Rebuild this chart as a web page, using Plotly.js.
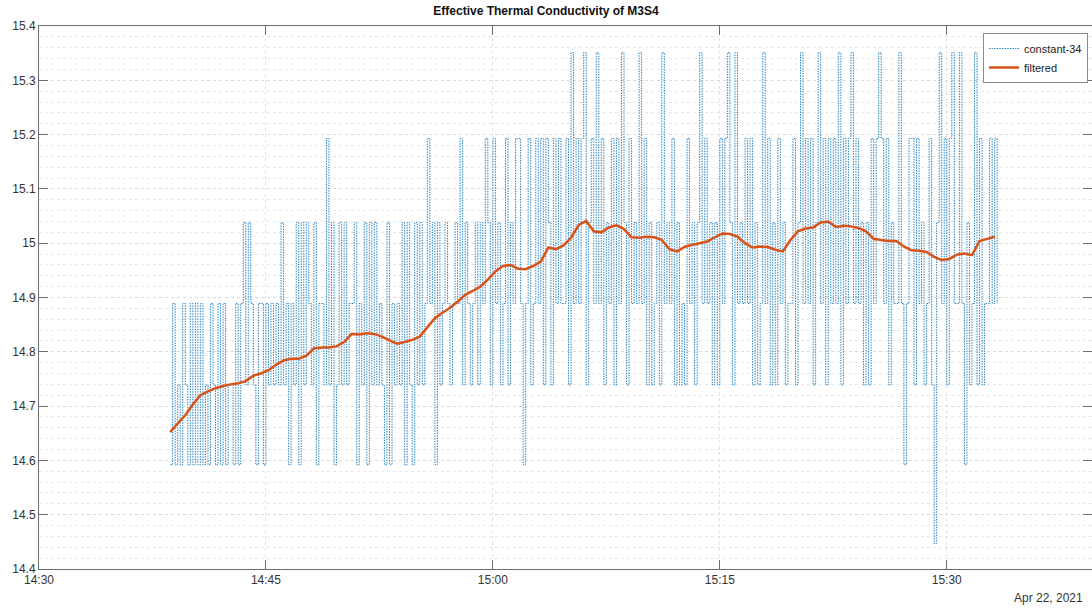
<!DOCTYPE html>
<html>
<head>
<meta charset="utf-8">
<script src="https://cdn.plot.ly/plotly-3.0.1.min.js"></script>
<style>
  html, body { margin: 0; padding: 0; background: #ffffff; }
  #chart { width: 1092px; height: 608px; }
</style>
</head>
<body>
<div id="chart"></div>
<script>
// Quantised conductivity levels the sensor can report
const levelValues = [14.447, 14.592, 14.739, 14.889, 15.038, 15.193, 15.351];

// Raw readings: one level index per 10 s sample, one string per minute, starting 14:38:40
const rawLevelCodes = [
  "131213", "213131", "312132", "131312", "213134", "243213", "313232", "324231",
  "324142", "432413", "325241", "242423", "341324", "142423", "214132", "324142",
  "142423", "534142", "343234", "352432", "342435", "425342", "352435", "531352",
  "353525", "425353", "352635", "356245", "363524", "352536", "425343", "635242",
  "342634", "352423", "253424", "635342", "425356", "426343", "535242", "363524",
  "253423", "352463", "535246", "352535", "362535", "635342", "425356", "535243",
  "363135", "525342", "352046", "352563", "363142", "362523", "35353"
];
const rawStartTime = "14:38:40";
const rawStepSeconds = 10;

// Filtered conductivity, one value every 30 s starting 14:38:40
const filteredValues = [
  14.652, 14.668, 14.683, 14.703, 14.720, 14.727, 14.733, 14.737, 14.740, 14.742,
  14.746, 14.756, 14.760, 14.766, 14.776, 14.784, 14.787, 14.787, 14.793, 14.806,
  14.808, 14.808, 14.810, 14.818, 14.833, 14.832, 14.834, 14.833, 14.828, 14.821,
  14.815, 14.818, 14.822, 14.828, 14.845, 14.862, 14.872, 14.881, 14.892, 14.905,
  14.912, 14.920, 14.933, 14.948, 14.958, 14.960, 14.953, 14.952, 14.958, 14.966,
  14.992, 14.989, 14.996, 15.010, 15.033, 15.041, 15.022, 15.020, 15.029, 15.033,
  15.026, 15.011, 15.010, 15.012, 15.011, 15.006, 14.989, 14.985, 14.993, 14.997,
  15.000, 15.003, 15.011, 15.018, 15.017, 15.012, 15.000, 14.992, 14.994, 14.993,
  14.988, 14.985, 15.006, 15.022, 15.027, 15.029, 15.038, 15.040, 15.030, 15.032,
  15.031, 15.028, 15.022, 15.008, 15.006, 15.004, 15.004, 14.994, 14.987, 14.986,
  14.984, 14.975, 14.969, 14.971, 14.979, 14.981, 14.978, 15.004, 15.008, 15.012
];
const filteredStartTime = "14:38:40";
const filteredStepSeconds = 30;

const dayLabel = "Apr 22, 2021";
const dayIso = "2021-04-22";
const xTickTimes = ["14:30", "14:45", "15:00", "15:15", "15:30"];
const xRangeTimes = ["14:30:00", "15:39:36"];
const yTickValues = [14.4, 14.5, 14.6, 14.7, 14.8, 14.9, 15.0, 15.1, 15.2, 15.3, 15.4];
const yTickLabels = ["14.4", "14.5", "14.6", "14.7", "14.8", "14.9", "15", "15.1", "15.2", "15.3", "15.4"];

// clock helpers: "HH:MM:SS" + offset seconds -> full timestamp string
function toSeconds(hms) {
  const p = hms.split(":").map(Number);
  return p[0] * 3600 + p[1] * 60 + (p[2] || 0);
}
function stamp(totalSec) {
  const h = Math.floor(totalSec / 3600);
  const m = Math.floor((totalSec % 3600) / 60);
  const s = totalSec % 60;
  const pad = n => String(n).padStart(2, "0");
  return `${dayIso} ${pad(h)}:${pad(m)}:${pad(s)}`;
}

// raw series
const rawCodes = rawLevelCodes.join("").split("").map(Number);
const rawBase = toSeconds(rawStartTime);
const rawX = rawCodes.map((_, i) => stamp(rawBase + i * rawStepSeconds));
const rawY = rawCodes.map(c => levelValues[c]);

// filtered series
const filtBase = toSeconds(filteredStartTime);
const filtX = filteredValues.map((_, i) => stamp(filtBase + i * filteredStepSeconds));

const traces = [
  {
    type: "scatter", mode: "lines", name: "constant-34",
    x: rawX, y: rawY,
    line: { color: "#1f7fc0", width: 1, dash: "1.4px,1.2px", shape: "hv", simplify: false },
    hoverinfo: "skip"
  },
  {
    type: "scatter", mode: "lines", name: "filtered",
    x: filtX, y: filteredValues,
    line: { color: "#D95319", width: 2.5, simplify: false },
    hoverinfo: "skip"
  }
];

const fontFam = "Liberation Sans, Arial, Helvetica, sans-serif";
const axisGrey = "#6e6e6e";

const layout = {
  width: 1092, height: 608,
  margin: { l: 39, r: 0, t: 26, b: 39, pad: 0 },
  paper_bgcolor: "#ffffff", plot_bgcolor: "#ffffff",
  font: { family: fontFam, size: 12, color: "#333333" },
  title: {
    text: "<b>Effective Thermal Conductivity of M3S4</b>",
    font: { family: fontFam, size: 12, color: "#111111" },
    x: 0.5, xref: "container", xanchor: "center",
    y: 1 - 11 / 608, yref: "container", yanchor: "middle"
  },
  showlegend: true,
  legend: {
    x: (1088 - 39) / 1053, xanchor: "right",
    y: (569 - 33) / 543, yanchor: "top",
    bgcolor: "#ffffff", bordercolor: "#8c8c8c", borderwidth: 1,
    font: { family: fontFam, size: 11, color: "#222222" },
    tracegroupgap: 0, itemwidth: 30
  },
  xaxis: {
    type: "date",
    range: [`${dayIso} ${xRangeTimes[0]}`, `${dayIso} ${xRangeTimes[1]}`],
    tickvals: xTickTimes.map(t => `${dayIso} ${t}`),
    ticktext: xTickTimes,
    ticks: "inside", ticklen: 9, tickwidth: 1, tickcolor: axisGrey,
    showline: true, linecolor: axisGrey, linewidth: 1, mirror: "ticks",
    showgrid: true, gridcolor: "#e2e2e2", griddash: "dot", gridwidth: 1,
    zeroline: false,
    tickfont: { family: fontFam, size: 12, color: "#333333" }
  },
  yaxis: {
    range: [14.4, 15.4],
    tickvals: yTickValues, ticktext: yTickLabels,
    ticks: "inside", ticklen: 9, tickwidth: 1, tickcolor: axisGrey,
    showline: true, linecolor: axisGrey, linewidth: 1, mirror: "ticks",
    showgrid: true, gridcolor: "#dadada", griddash: "dot", gridwidth: 1,
    minor: { dtick: 0.02, showgrid: true, gridcolor: "#e8e8e8", griddash: "dot", gridwidth: 1, ticks: "" },
    zeroline: false,
    tickfont: { family: fontFam, size: 12, color: "#333333" }
  },
  annotations: [
    {
      text: dayLabel, showarrow: false,
      xref: "paper", yref: "paper",
      x: (1085 - 39) / 1053, xanchor: "right",
      y: (569 - 598) / 543, yanchor: "middle",
      font: { family: fontFam, size: 12, color: "#333333" }
    }
  ]
};

Plotly.newPlot("chart", traces, layout, { displayModeBar: false, staticPlot: true });
</script>
</body>
</html>
